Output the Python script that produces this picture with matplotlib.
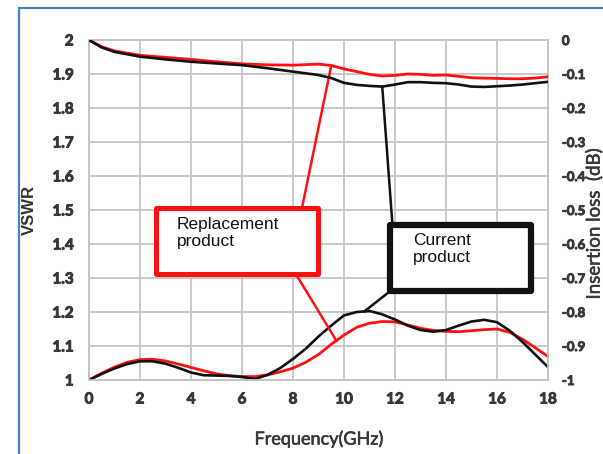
import numpy as np
import matplotlib
matplotlib.use("Agg")
import matplotlib.pyplot as plt
import matplotlib.patheffects as pe
from matplotlib.patches import Rectangle

# ---------------- data ----------------
freq_vswr = [0, 0.5, 1, 1.5, 2, 2.5, 3, 3.5, 4, 4.5, 5, 5.5, 6, 6.5, 7, 7.5, 8, 8.5,
             9, 9.5, 10, 10.5, 11, 11.5, 12, 12.5, 13, 13.5, 14, 14.5, 15, 15.5,
             16, 16.5, 17, 17.5, 18]
vswr_current = [1.000, 1.018, 1.034, 1.047, 1.055, 1.055, 1.048, 1.036, 1.022, 1.014,
                1.013, 1.012, 1.009, 1.003, 1.015, 1.035, 1.062, 1.092, 1.128, 1.160,
                1.190, 1.200, 1.203, 1.193, 1.178, 1.160, 1.147, 1.142, 1.147, 1.160,
                1.172, 1.177, 1.170, 1.145, 1.112, 1.075, 1.038]
vswr_replacement = [1.000, 1.020, 1.038, 1.052, 1.060, 1.061, 1.056, 1.047, 1.037, 1.027,
                    1.018, 1.013, 1.010, 1.010, 1.015, 1.024, 1.035, 1.052, 1.075, 1.105,
                    1.132, 1.155, 1.167, 1.172, 1.171, 1.162, 1.152, 1.146, 1.143, 1.142,
                    1.145, 1.148, 1.150, 1.140, 1.120, 1.095, 1.069]

freq_il = [0, 0.5, 1, 2, 3, 4, 5, 6, 7, 8, 9, 9.5, 10, 10.5, 11, 11.5, 12, 12.5, 13,
           13.5, 14, 14.5, 15, 15.5, 16, 16.5, 17, 17.5, 18]
il_current = [0.000, -0.022, -0.035, -0.049, -0.057, -0.064, -0.069, -0.074, -0.083,
              -0.093, -0.103, -0.112, -0.126, -0.132, -0.135, -0.137, -0.131, -0.124,
              -0.124, -0.126, -0.127, -0.131, -0.137, -0.138, -0.136, -0.134, -0.131,
              -0.127, -0.123]
il_replacement = [0.000, -0.020, -0.032, -0.045, -0.051, -0.057, -0.064, -0.070, -0.073,
                  -0.074, -0.071, -0.075, -0.085, -0.093, -0.101, -0.106, -0.104, -0.100,
                  -0.101, -0.104, -0.103, -0.107, -0.111, -0.112, -0.113, -0.114, -0.114,
                  -0.112, -0.108]

x_ticks = [0, 2, 4, 6, 8, 10, 12, 14, 16, 18]
vswr_ticks = [1, 1.1, 1.2, 1.3, 1.4, 1.5, 1.6, 1.7, 1.8, 1.9, 2]
vswr_labels = ["1", "1.1", "1.2", "1.3", "1.4", "1.5", "1.6", "1.7", "1.8", "1.9", "2"]
il_ticks = [-1, -0.9, -0.8, -0.7, -0.6, -0.5, -0.4, -0.3, -0.2, -0.1, 0]
il_labels = ["-1", "-0.9", "-0.8", "-0.7", "-0.6", "-0.5", "-0.4", "-0.3", "-0.2", "-0.1", "0"]

label_replacement = "Replacement\nproduct"
label_current = "Current\nproduct"

# ---------------- figure ----------------
tick_font = ["Lato", "DejaVu Sans"]
RED = "#ff1010"
BLACK = "#111111"
GREY_TXT = "#383838"
thicken = [pe.withStroke(linewidth=0.7, foreground=GREY_TXT)]

fig = plt.figure(figsize=(6.03, 4.54), dpi=100)
ax = fig.add_axes([89 / 603, 74 / 454, 459 / 603, 340 / 454])
ax2 = ax.twinx()

# outer blue frame
fig.patches.append(Rectangle((19 / 603, -0.2), 1.2, 1.2 - 8 / 454,
                             transform=fig.transFigure, fill=False,
                             edgecolor="#4a84c0", linewidth=1.6, clip_on=False))

ax.set_xlim(0, 18)
ax.set_ylim(1, 2)
ax2.set_ylim(-1, 0)

ax.grid(True, color="#c4c4c4", linewidth=1.3)
ax.set_axisbelow(True)
for a in (ax, ax2):
    for s in a.spines.values():
        s.set_color("#c4c4c4")
        s.set_linewidth(1.3)

ax.set_xticks(x_ticks)
ax.set_xticklabels([str(t) for t in x_ticks])
ax.set_yticks(vswr_ticks)
ax.set_yticklabels(vswr_labels)
ax2.set_yticks(il_ticks)
ax2.set_yticklabels(il_labels)

ax.tick_params(axis="y", length=0, pad=11, labelsize=11, labelcolor=GREY_TXT)
ax.tick_params(axis="x", length=0, pad=9, labelsize=11, labelcolor=GREY_TXT)
ax2.tick_params(axis="y", length=0, pad=10, labelsize=9.5, labelcolor=GREY_TXT)
for lab in ax.get_xticklabels() + ax.get_yticklabels() + ax2.get_yticklabels():
    lab.set_family(tick_font)
    lab.set_fontweight("bold")
    lab.set_path_effects(thicken)

ax.set_xlabel("Frequency(GHz)", family=tick_font, fontsize=13, color=GREY_TXT,
              path_effects=[pe.withStroke(linewidth=0.4, foreground=GREY_TXT)])
ax.xaxis.set_label_coords(0.5, -0.15)
ax.set_ylabel("VSWR", family=["Liberation Sans", "DejaVu Sans"], fontsize=12,
              fontweight="bold", color="#333333")
ax.yaxis.set_label_coords(-0.113, 0.5)
ax2.set_ylabel("Insertion loss  (dB)", family=tick_font, fontsize=13.5, color=GREY_TXT,
               path_effects=[pe.withStroke(linewidth=0.4, foreground=GREY_TXT)])
ax2.yaxis.set_label_coords(1.08, 0.46)

# curves
ax.plot(freq_vswr, vswr_replacement, color=RED, lw=2.0, zorder=3)
ax.plot(freq_vswr, vswr_current, color=BLACK, lw=1.9, zorder=4)
ax2.plot(freq_il, il_replacement, color=RED, lw=2.0, zorder=3)
ax2.plot(freq_il, il_current, color=BLACK, lw=1.9, zorder=4)

# callout boxes (data coordinates of VSWR axis)
def callout(x0, x1, y0, y1, ec, lw, text, tx, ty):
    ax.add_patch(Rectangle((x0, y0), x1 - x0, y1 - y0, facecolor="white",
                           edgecolor=ec, linewidth=lw, joinstyle="round", zorder=6))
    ax.text(tx, ty, text, ha="left", va="top", fontsize=12.5,
            family=["Liberation Sans", "DejaVu Sans"], color="#111111",
            linespacing=1.15, zorder=7)

callout(2.62, 8.97, 1.313, 1.505, RED, 3.6, label_replacement, 3.45, 1.478)
callout(11.8, 17.35, 1.262, 1.456, BLACK, 4.5, label_current, 12.7, 1.432)

def il_to_vswr(v):
    return 2 + v

# leader lines
fx_r_top = 9.5
ax.plot([8.35, fx_r_top],
        [1.505, il_to_vswr(np.interp(fx_r_top, freq_il, il_replacement))],
        color=RED, lw=1.8, zorder=5)
fx_r_bot = 9.7
ax.plot([8.1, fx_r_bot], [1.313, np.interp(fx_r_bot, freq_vswr, vswr_replacement)],
        color=RED, lw=1.8, zorder=5)
fx_c_top = 11.5
ax.plot([11.9, fx_c_top],
        [1.456, il_to_vswr(np.interp(fx_c_top, freq_il, il_current))],
        color=BLACK, lw=1.8, zorder=5)
fx_c_bot = 10.8
ax.plot([11.82, fx_c_bot], [1.262, np.interp(fx_c_bot, freq_vswr, vswr_current)],
        color=BLACK, lw=1.8, zorder=5)

fig.savefig("out.png", dpi=100)
